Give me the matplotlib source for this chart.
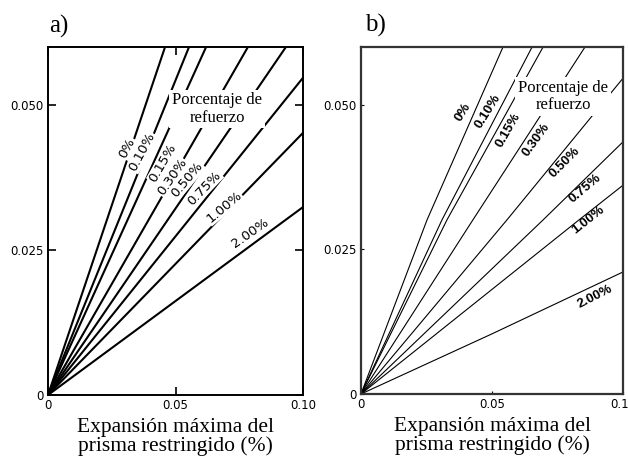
import matplotlib
matplotlib.use("Agg")
import matplotlib.pyplot as plt

# reinforcement percentage of each curve
refuerzo = ["0%", "0.10%", "0.15%", "0.30%", "0.50%", "0.75%", "1.00%", "2.00%"]

# panel a) points of each curve (start at the origin)
a_x = [[0, 0.0459], [0, 0.0553], [0, 0.0620], [0, 0.0784],
       [0, 0.0933], [0, 0.100], [0, 0.100], [0, 0.100]]
a_y = [[0, 0.060], [0, 0.060], [0, 0.060], [0, 0.060],
       [0, 0.060], [0, 0.0547], [0, 0.0452], [0, 0.0324]]

# panel b) points of each curve
b_x = [[0, 0.0252, 0.0542], [0, 0.0309, 0.0653], [0, 0.0328, 0.0695],
       [0, 0.0427, 0.0855], [0, 0.0557, 0.100], [0, 0.0695, 0.100],
       [0, 0.0832, 0.100], [0, 0.050, 0.100]]
b_y = [[0, 0.0301, 0.060], [0, 0.0301, 0.060], [0, 0.0301, 0.060],
       [0, 0.0301, 0.060], [0, 0.0301, 0.0546], [0, 0.0301, 0.0436],
       [0, 0.0301, 0.0361], [0, 0.0104, 0.0211]]

xticks = [0, 0.05, 0.10]
xticklabels = ["0", "0.05", "0.10"]
yticks = [0, 0.025, 0.050]
yticklabels = ["0", "0.025", "0.050"]

# where the curve labels sit
a_lab_x = [0.0310, 0.0369, 0.0451, 0.0486, 0.0545, 0.0612, 0.0690, 0.0792]
a_lab_y = [0.0426, 0.0419, 0.0400, 0.0376, 0.0371, 0.0357, 0.0324, 0.0279]
a_rot = [62, 62, 60, 55, 50, 46, 40, 35]
b_lab_x = [0.0389, 0.0485, 0.0561, 0.0668, 0.0779, 0.0855, 0.0866, 0.0893]
b_lab_y = [0.0488, 0.0488, 0.0457, 0.0439, 0.0401, 0.0356, 0.0301, 0.0168]
b_rot = [58, 58, 60, 54, 45, 40, 38, 27]

serif = "Liberation Serif"
xlabel = "Expansión máxima del\nprisma restringido (%)"

fig = plt.figure(figsize=(6.28, 4.62), dpi=100)
ax_a = fig.add_axes([48 / 628, 67 / 462, 255 / 628, 348 / 462])
ax_b = fig.add_axes([361 / 628, 68 / 462, 262 / 628, 347 / 462])

# --- a) ---
for xs, ys in zip(a_x, a_y):
    ax_a.plot(xs, ys, color="black", lw=1.5, solid_capstyle="butt")
for name, x, y, r in zip(refuerzo, a_lab_x, a_lab_y, a_rot):
    ax_a.text(x, y, name, rotation=r, ha="center", va="center",
              fontsize=9.5, family="DejaVu Sans",
              bbox=dict(facecolor="white", edgecolor="none", pad=0.5))
ax_a.text(0.0663, 0.0493, "Porcentaje de\nrefuerzo", ha="center", va="center",
          fontsize=12, family=serif, linespacing=1.1,
          bbox=dict(facecolor="white", edgecolor="none", pad=2))
for s in ax_a.spines.values():
    s.set_linewidth(1.4)
ax_a.tick_params(direction="in", length=6, width=1.2, top=True, right=True,
                 labelsize=8.5, pad=3)

# --- b) ---
for xs, ys in zip(b_x, b_y):
    ax_b.plot(xs, ys, color="black", lw=0.8)
for name, x, y, r in zip(refuerzo, b_lab_x, b_lab_y, b_rot):
    ax_b.text(x, y, name, rotation=r, ha="center", va="center",
              fontsize=9.5, family="Liberation Sans", weight="bold")
ax_b.text(0.0771, 0.0514, "Porcentaje de\nrefuerzo", ha="center", va="center",
          fontsize=12, family=serif, linespacing=1.1,
          bbox=dict(facecolor="white", edgecolor="none", pad=2))
for s in ax_b.spines.values():
    s.set_linewidth(1.6)
    s.set_color("#333333")
ax_b.tick_params(direction="in", length=2, width=0.8, labelsize=8.5, pad=3)

for ax in (ax_a, ax_b):
    ax.set_xlim(0, 0.10)
    ax.set_ylim(0, 0.06)
    ax.set_xticks(xticks)
    ax.set_xticklabels(xticklabels)
    ax.set_yticks(yticks)
    ax.set_yticklabels(yticklabels)
    ax.set_xlabel(xlabel, fontsize=15.5, family=serif, linespacing=1.0, labelpad=4)

fig.text(59 / 628, 1 - 26 / 462, "a)", fontsize=18, family=serif, ha="center", va="center")
fig.text(375 / 628, 1 - 25 / 462, "b)", fontsize=18, family=serif, ha="center", va="center")

fig.savefig("out.png", dpi=100)
